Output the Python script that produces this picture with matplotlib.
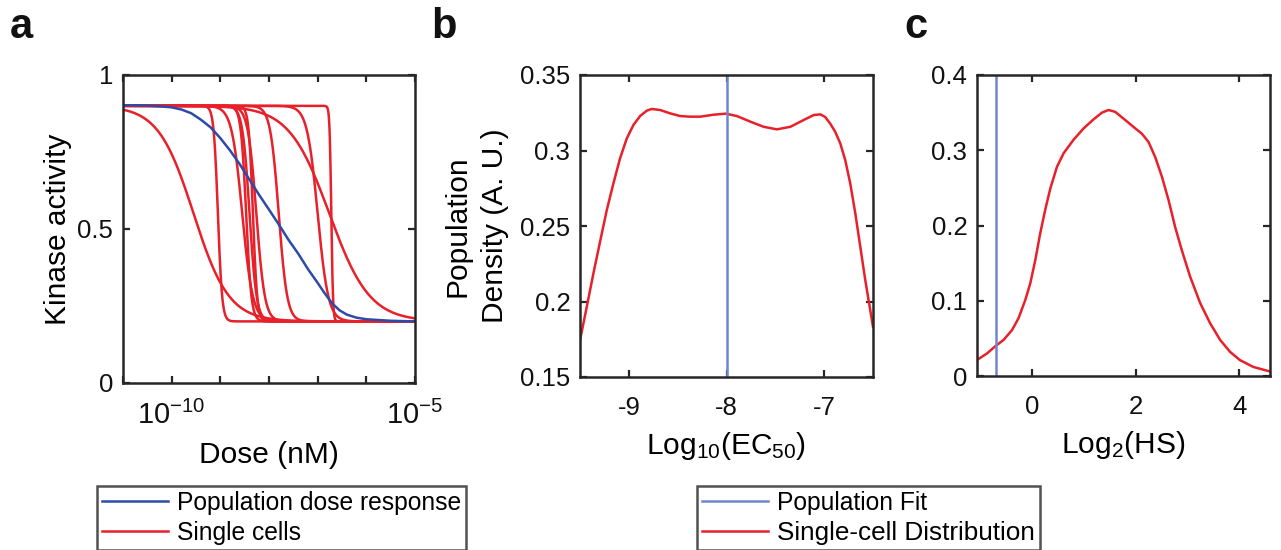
import numpy as np
import matplotlib
matplotlib.use("Agg")
import matplotlib.pyplot as plt
from matplotlib.lines import Line2D
from matplotlib.ticker import FixedLocator, FixedFormatter, NullLocator

plt.rcParams['font.family'] = ['Liberation Sans', 'DejaVu Sans']
plt.rcParams['mathtext.fontset'] = 'custom'
plt.rcParams['mathtext.rm'] = 'Liberation Sans'
plt.rcParams['mathtext.it'] = 'Liberation Sans:italic'
plt.rcParams['mathtext.bf'] = 'Liberation Sans:bold'

# ---------------- data ----------------
# panel a: population dose response (log10 dose, activity)
pop_log_dose = [-11.0, -10.6, -10.3, -10.0, -9.8, -9.6, -9.4, -9.2, -9.0, -8.8, -8.6,
                -8.4, -8.2, -8.0, -7.8, -7.6, -7.4, -7.2, -7.0, -6.85, -6.7, -6.55,
                -6.4, -6.2, -6.0, -5.5, -5.0]
pop_activity = [0.902, 0.901, 0.899, 0.895, 0.888, 0.876, 0.855, 0.83, 0.795, 0.755, 0.71,
                0.66, 0.61, 0.563, 0.515, 0.465, 0.42, 0.37, 0.325, 0.29, 0.258, 0.236,
                0.222, 0.212, 0.207, 0.202, 0.20]

# single cells: Hill parameters
cell_log_ec50 = [-9.55, -9.05, -8.55, -8.47, -8.40, -8.33, -8.26, -7.80, -7.00, -6.72, -6.76]
cell_hill = [1.2, 10, 4, 8, 6, 10, 5, 5, 4, 25, 1.05]
act_top = 0.9
act_bottom = 0.2

# panel b: single-cell EC50 density
b_x = [-9.5, -9.431, -9.363, -9.295, -9.226, -9.158, -9.090, -9.021, -8.953, -8.885,
       -8.816, -8.765, -8.679, -8.577, -8.474, -8.372, -8.269, -8.133, -8.006, -7.893,
       -7.756, -7.620, -7.483, -7.346, -7.210, -7.107, -7.038, -6.99, -6.94, -6.887,
       -6.835, -6.784, -6.733, -6.681, -6.630, -6.579, -6.528, -6.5]
b_y = [0.1743, 0.1964, 0.2185, 0.2395, 0.2605, 0.2782, 0.2948, 0.3080, 0.3169, 0.3228,
       0.3264, 0.3275, 0.3268, 0.3246, 0.3228, 0.3224, 0.3224, 0.3237, 0.3244, 0.3228,
       0.3191, 0.3157, 0.3140, 0.3157, 0.3202, 0.3235, 0.3239, 0.3222, 0.3180, 0.3124,
       0.3047, 0.2936, 0.2782, 0.2583, 0.2362, 0.2141, 0.1942, 0.1832]
b_pop_fit = -8.0

# panel c: single-cell Hill slope density
c_x = [-1.06, -0.867, -0.70, -0.547, -0.385, -0.258, -0.129, -0.033, 0.064, 0.160,
       0.256, 0.353, 0.482, 0.610, 0.802, 0.995, 1.187, 1.349, 1.477, 1.605, 1.766,
       1.958, 2.119, 2.248, 2.376, 2.505, 2.633, 2.761, 2.890, 3.050, 3.243, 3.436,
       3.628, 3.821, 4.013, 4.270, 4.59]
c_y = [0.0213, 0.030, 0.040, 0.048, 0.061, 0.077, 0.101, 0.123, 0.154, 0.190,
       0.221, 0.249, 0.278, 0.296, 0.314, 0.329, 0.341, 0.350, 0.3535, 0.351, 0.342,
       0.331, 0.322, 0.311, 0.291, 0.265, 0.234, 0.198, 0.167, 0.132, 0.097, 0.070,
       0.048, 0.032, 0.021, 0.012, 0.006]
c_pop_fit = -0.70

# ---------------- style ----------------
RED = '#e8202a'
BLUE_DARK = '#2e4aa8'
BLUE_LIGHT = '#7086cc'
AXC = '#262626'
TICK_FS = 18.5
LAB_FS = 21.5
W, H = 1281, 550

fig = plt.figure(figsize=(W / 100, H / 100), dpi=100)


def ax_rect(l, r, t, b):
    return [l / W, 1 - b / H, (r - l) / W, (b - t) / H]


def style(ax, xpad):
    for s in ax.spines.values():
        s.set_linewidth(1.8)
        s.set_color(AXC)
    ax.tick_params(which='both', direction='in', length=5, width=1.6, color=AXC,
                   top=True, right=True, labelsize=TICK_FS, labelcolor='#111111')
    ax.tick_params(axis='x', pad=xpad)
    ax.tick_params(axis='y', pad=7)


# ---- panel a ----
ax1 = fig.add_axes(ax_rect(123, 415, 75, 383))
dose = np.logspace(-11, -5, 800)
for e, h in zip(cell_log_ec50, cell_hill):
    act = act_bottom + (act_top - act_bottom) / (1 + (dose / 10.0 ** e) ** h)
    ax1.plot(dose, act, color=RED, lw=1.8)
ax1.plot(10.0 ** np.array(pop_log_dose), pop_activity, color=BLUE_DARK, lw=1.8)
ax1.set_xscale('log')
ax1.set_xlim(1e-11, 1e-5)
ax1.set_ylim(0, 1)
dec = [1e-11, 1e-10, 1e-9, 1e-8, 1e-7, 1e-6, 1e-5]
ax1.xaxis.set_major_locator(FixedLocator(dec))
ax1.xaxis.set_major_formatter(FixedFormatter(['', r'$\mathregular{10^{-10}}$', '', '', '', '',
                                              r'$\mathregular{10^{-5}}$']))
ax1.xaxis.set_minor_locator(NullLocator())
ax1.set_yticks([0, 0.5, 1])
ax1.set_yticklabels(['0', '0.5', '1'])
style(ax1, 13)
ax1.tick_params(axis='x', labelsize=21)
ax1.set_xlabel('Dose (nM)', fontsize=LAB_FS, labelpad=8)
ax1.set_ylabel('Kinase activity', fontsize=LAB_FS, labelpad=4)

# ---- panel b ----
ax2 = fig.add_axes(ax_rect(580, 873, 75, 377))
ax2.plot(b_x, b_y, color=RED, lw=1.8)
ax2.axvline(b_pop_fit, color=BLUE_LIGHT, lw=1.8)
ax2.set_xlim(-9.5, -6.5)
ax2.set_ylim(0.15, 0.35)
ax2.set_xticks([-9, -8, -7])
ax2.set_xticklabels(['-9', '-8', '-7'])
ax2.set_yticks([0.15, 0.2, 0.25, 0.3, 0.35])
ax2.set_yticklabels(['0.15', '0.2', '0.25', '0.3', '0.35'])
style(ax2, 14)
ax2.set_xlabel(r'Log$_{\mathregular{10}}$(EC$_{\mathregular{50}}$)', fontsize=LAB_FS, labelpad=7)
ax2.set_ylabel('Population\nDensity (A. U.)', fontsize=LAB_FS, labelpad=8, linespacing=1.45)

# ---- panel c ----
ax3 = fig.add_axes(ax_rect(977, 1270, 75, 376))
ax3.plot(c_x, c_y, color=RED, lw=1.8)
ax3.axvline(c_pop_fit, color=BLUE_LIGHT, lw=1.8)
ax3.set_xlim(-1.06, 4.59)
ax3.set_ylim(0, 0.4)
ax3.set_xticks([0, 2, 4])
ax3.set_xticklabels(['0', '2', '4'])
ax3.set_yticks([0, 0.1, 0.2, 0.3, 0.4])
ax3.set_yticklabels(['0', '0.1', '0.2', '0.3', '0.4'])
style(ax3, 14)
ax3.set_xlabel(r'Log$_{\mathregular{2}}$(HS)', fontsize=LAB_FS, labelpad=7)

# ---- panel letters ----
for txt, xp in [('a', 10), ('b', 431), ('c', 904)]:
    fig.text(xp / W, 1 - 38 / H, txt, fontsize=30, fontweight='bold', ha='left',
             va='baseline', color='#111111')

# ---- legends ----
def make_legend(handles, labels, x0, y0):
    leg = fig.legend(handles, labels, loc='upper left',
                     bbox_to_anchor=(x0 / W, 1 - y0 / H), bbox_transform=fig.transFigure,
                     frameon=True, fancybox=False, edgecolor=AXC, fontsize=17.7,
                     handlelength=2.7, handletextpad=0.35, borderpad=0.2,
                     labelspacing=0.25, borderaxespad=0)
    leg.get_frame().set_linewidth(1.8)
    return leg

make_legend([Line2D([], [], color=BLUE_DARK, lw=1.8), Line2D([], [], color=RED, lw=1.8)],
            ['Population dose response', 'Single cells'], 97, 486)
leg2 = make_legend([Line2D([], [], color=BLUE_LIGHT, lw=1.8), Line2D([], [], color=RED, lw=1.8)],
                   ['Population Fit', 'Single-cell Distribution'], 697, 486)
leg2.get_texts()[1].set_fontsize(18.8)

fig.savefig('out.png', dpi=100)
